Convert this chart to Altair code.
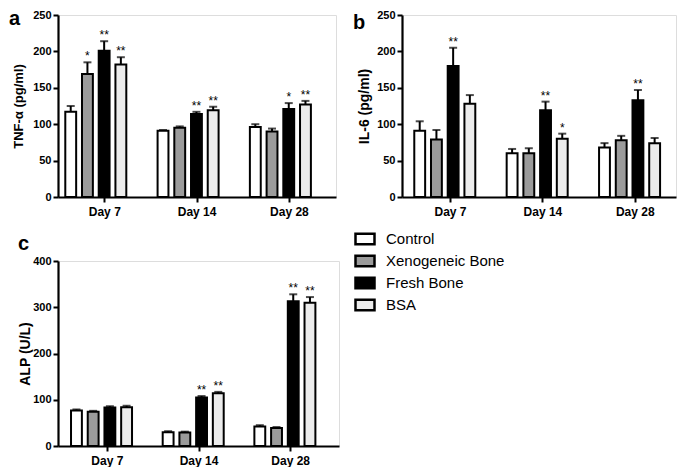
import altair as alt
import pandas as pd

days = ["Day 7", "Day 14", "Day 28"]
groups = ["Control", "Xenogeneic Bone", "Fresh Bone", "BSA"]
group_fills = ["#ffffff", "#9b9b9b", "#000000", "#ececec"]
panel_letters = ["a", "b", "c"]
y_titles = ["TNF-α (pg/ml)", "IL-6 (pg/ml)", "ALP (U/L)"]

# Panel a - TNF-alpha: bar heights, upper error-bar ends, significance marks
tnf_control = [117, 91, 96]
tnf_xeno = [169, 95, 90]
tnf_fresh = [201, 114, 121]
tnf_bsa = [182, 119, 127]
tnf_control_err = [125, 92, 100]
tnf_xeno_err = [185, 97, 94]
tnf_fresh_err = [214, 117, 129]
tnf_bsa_err = [192, 124, 132]
tnf_control_sig = ["", "", ""]
tnf_xeno_sig = ["*", "", ""]
tnf_fresh_sig = ["**", "**", "*"]
tnf_bsa_sig = ["**", "**", "**"]

# Panel b - IL-6
il6_control = [91, 60, 68]
il6_xeno = [79, 60, 78]
il6_fresh = [180, 119, 133]
il6_bsa = [128, 80, 74]
il6_control_err = [104, 66, 74]
il6_xeno_err = [92, 67, 84]
il6_fresh_err = [205, 131, 147]
il6_bsa_err = [140, 87, 81]
il6_control_sig = ["", "", ""]
il6_xeno_sig = ["", "", ""]
il6_fresh_sig = ["**", "**", "**"]
il6_bsa_sig = ["", "*", ""]

# Panel c - ALP
alp_control = [77, 30, 42]
alp_xeno = [74, 29, 39]
alp_fresh = [83, 105, 313]
alp_bsa = [84, 114, 310]
alp_control_err = [79, 32, 45]
alp_xeno_err = [76, 31, 41]
alp_fresh_err = [86, 108, 328]
alp_bsa_err = [87, 117, 322]
alp_control_sig = ["", "", ""]
alp_xeno_sig = ["", "", ""]
alp_fresh_sig = ["", "**", "**"]
alp_bsa_sig = ["", "**", "**"]

FONT = "Liberation Sans"
AXIS_STYLE = dict(domainColor="#000000", domainWidth=2.2, domainOpacity=1,
                  tickColor="#000000", tickWidth=2, tickSize=5, tickOpacity=1,
                  labelColor="#000000", titleColor="#000000", labelFont=FONT,
                  titleFont=FONT, labelFontWeight="bold", titleFontWeight="bold",
                  grid=False)


def frame(means, errs, sigs):
    rows = []
    for g, m, e, s in zip(groups, means, errs, sigs):
        for d, mv, ev, sv in zip(days, m, e, s):
            rows.append({"day": d, "group": g, "mean": mv, "err": ev, "sig": sv})
    return pd.DataFrame(rows)


def panel(df, letter, ytitle, ymax, ystep, w, h, pi, po, align, pio, tick_off,
          title_x, title_size, letter_x, letter_y, legend=None):
    xenc = alt.X("day:N", sort=days,
                 scale=alt.Scale(paddingInner=pi, paddingOuter=po, align=align),
                 axis=alt.Axis(title=None, labelAngle=0, tickOffset=tick_off,
                               labelFontSize=12, labelPadding=4, **AXIS_STYLE))
    xo = alt.XOffset("group:N", sort=groups,
                     scale=alt.Scale(domain=groups, paddingInner=pio, paddingOuter=0))
    yscale = alt.Scale(domain=[0, ymax], nice=False, zero=True)
    yaxis = alt.Axis(title=ytitle, values=list(range(0, ymax + 1, ystep)),
                     labelFontSize=11, labelPadding=2, titleFontSize=title_size,
                     titleX=title_x, titleY=h / 2, titleAngle=-90,
                     titleAlign="center", titleBaseline="middle", **AXIS_STYLE)
    base = alt.Chart(df)
    fill = alt.Fill("group:N", scale=alt.Scale(domain=groups, range=group_fills),
                    legend=legend)
    bars = base.mark_bar(stroke="black", strokeWidth=2).encode(
        x=xenc, xOffset=xo, y=alt.Y("mean:Q", scale=yscale, axis=yaxis), fill=fill)
    rules = base.mark_rule(color="black", strokeWidth=2).encode(
        x=xenc, xOffset=xo, y=alt.Y("mean:Q", scale=yscale, axis=yaxis), y2="err:Q")
    caps = base.mark_tick(orient="horizontal", size=8, thickness=2, color="black").encode(
        x=xenc, xOffset=xo, y=alt.Y("err:Q", scale=yscale, axis=yaxis))
    stars = base.mark_text(baseline="alphabetic", dy=-2, fontSize=12, font=FONT,
                           fill="black").encode(
        x=xenc, xOffset=xo, y=alt.Y("err:Q", scale=yscale, axis=yaxis), text="sig:N")
    lab = alt.Chart(pd.DataFrame({"letter": [letter]})).mark_text(
        align="left", baseline="top", fontSize=20, fontWeight="bold", font=FONT,
        fill="black").encode(text="letter:N", x=alt.value(letter_x), y=alt.value(letter_y))
    return alt.layer(bars, rules, caps, stars, lab).properties(width=w, height=h)


df_a = frame([tnf_control, tnf_xeno, tnf_fresh, tnf_bsa],
             [tnf_control_err, tnf_xeno_err, tnf_fresh_err, tnf_bsa_err],
             [tnf_control_sig, tnf_xeno_sig, tnf_fresh_sig, tnf_bsa_sig])
df_b = frame([il6_control, il6_xeno, il6_fresh, il6_bsa],
             [il6_control_err, il6_xeno_err, il6_fresh_err, il6_bsa_err],
             [il6_control_sig, il6_xeno_sig, il6_fresh_sig, il6_bsa_sig])
df_c = frame([alp_control, alp_xeno, alp_fresh, alp_bsa],
             [alp_control_err, alp_xeno_err, alp_fresh_err, alp_bsa_err],
             [alp_control_sig, alp_xeno_sig, alp_fresh_sig, alp_bsa_sig])

legend_c = alt.Legend(title=None, orient="none", legendX=296, legendY=-33,
                      symbolType="M-1,-0.55L1,-0.55L1,0.55L-1,0.55Z", symbolSize=361,
                      symbolStrokeColor="black", symbolStrokeWidth=2.5,
                      labelFont=FONT, labelFontSize=15, labelColor="black",
                      labelOffset=10, rowPadding=0, padding=0)

pa = panel(df_a, panel_letters[0], y_titles[0], 250, 50, 278, 182,
           0.339, 0.1755, 0.225, 0.35, 8.5, -40, 13, -49, -6)
pb = panel(df_b, panel_letters[1], y_titles[1], 250, 50, 274, 182,
           0.227, 0.0963, 0.69, 0.36, 0, -38, 14, -49, -2)
pc = panel(df_c, panel_letters[2], y_titles[2], 400, 100, 281, 185,
           0.219, 0.142, 0.5, 0.4, 0, -33, 14, -40, -27, legend=legend_c)

row1 = alt.hconcat(pa, pb, spacing=15).resolve_scale(fill="independent").resolve_legend(fill="independent")
row2 = alt.hconcat(pc).resolve_scale(fill="independent")

chart = alt.vconcat(row1, row2, spacing=9).resolve_scale(
    fill="independent").resolve_legend(fill="independent").properties(
    padding=0
).configure_axis(**AXIS_STYLE).configure_view(stroke=None).configure(background="white")

chart.save("out.html", embed_options={"renderer": "svg", "actions": False})
